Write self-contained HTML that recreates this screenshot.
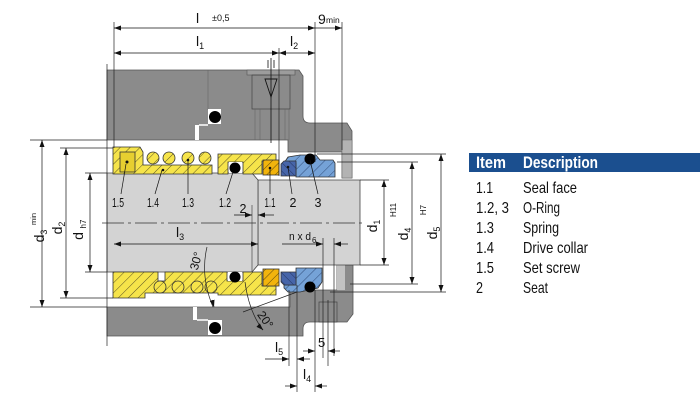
<!DOCTYPE html>
<html><head><meta charset="utf-8"><style>html,body{margin:0;padding:0;background:#fff;}svg{display:block}</style></head><body>
<svg xmlns="http://www.w3.org/2000/svg" width="700" height="400" viewBox="0 0 700 400" font-family="'Liberation Sans', sans-serif">
<defs>
<pattern id="hy" width="7" height="7" patternUnits="userSpaceOnUse" patternTransform="rotate(45)"><rect width="7" height="7" fill="#f6e44a"/><line x1="0" y1="0" x2="0" y2="7" stroke="#4a4520" stroke-width="0.9"/></pattern>
<pattern id="hg" width="6" height="6" patternUnits="userSpaceOnUse" patternTransform="rotate(45)"><rect width="6" height="6" fill="#f2b40c"/><line x1="0" y1="0" x2="0" y2="6" stroke="#4a3a10" stroke-width="0.9"/></pattern>
<pattern id="hd" width="6" height="6" patternUnits="userSpaceOnUse" patternTransform="rotate(-45)"><rect width="6" height="6" fill="#4765a9"/><line x1="0" y1="0" x2="0" y2="6" stroke="#1f2f5a" stroke-width="0.9"/></pattern>
<pattern id="hl" width="7" height="7" patternUnits="userSpaceOnUse" patternTransform="rotate(45)"><rect width="7" height="7" fill="#75a2d7"/><line x1="0" y1="0" x2="0" y2="7" stroke="#2a4470" stroke-width="0.9"/></pattern>
<marker id="a" viewBox="0 0 7 5" refX="7" refY="2.5" markerWidth="7" markerHeight="5" markerUnits="userSpaceOnUse" orient="auto-start-reverse"><path d="M0,0L7,2.5L0,5z" fill="#111"/></marker>
</defs>
<rect width="700" height="400" fill="#fff"/>

<!-- upper housing -->
<path d="M107,70 L299,70 L303,76 L303,116 Q303,123 310,123 L347,123 L352,131 L352,178 L342,178 L342,152 L288,152 L288,140 L107,140 Z" fill="#8b8b8b" stroke="#555" stroke-width="0.8"/>
<rect x="342" y="140" width="10" height="38" fill="#b3b3b3" stroke="#666" stroke-width="0.5"/>
<rect x="247" y="70" width="48" height="5" fill="#9c9c9c" stroke="#555" stroke-width="0.6"/>
<rect x="252" y="75" width="38" height="34" fill="none" stroke="#444" stroke-width="0.7"/>
<g stroke="#666" stroke-width="0.6">
<line x1="255" y1="109" x2="255" y2="140"/><line x1="260" y1="109" x2="260" y2="140"/>
<line x1="285" y1="109" x2="285" y2="140"/><line x1="289" y1="109" x2="289" y2="140"/>
<line x1="208" y1="70" x2="208" y2="110"/>
</g>
<rect x="208" y="109" width="13" height="15" fill="#fff"/>
<circle cx="215" cy="117" r="6" fill="#000"/>
<rect x="195" y="125" width="4" height="15" fill="#fff"/>
<line x1="199" y1="125" x2="208" y2="125" stroke="#fff" stroke-width="1.5"/>
<line x1="271" y1="58" x2="271" y2="143" stroke="#111" stroke-width="0.8"/>
<line x1="268" y1="60" x2="268" y2="68" stroke="#111" stroke-width="0.8"/>
<line x1="274" y1="60" x2="274" y2="68" stroke="#111" stroke-width="0.8"/>
<path d="M265,79 L277,79 L271,97 Z" fill="none" stroke="#111" stroke-width="0.9"/>

<!-- lower housing -->
<path d="M107,307 L290,307 L290,290 L337,290 L337,265 L353,265 L353,314 L347,322 L310,322 Q303,322 303,329 L303,336 L107,336 Z" fill="#8b8b8b" stroke="#555" stroke-width="0.8"/>
<rect x="337" y="265" width="8" height="25" fill="#c2c2c2"/>
<rect x="319" y="302" width="18" height="20" fill="#8b8b8b" stroke="#444" stroke-width="0.7"/>
<rect x="208" y="320" width="14" height="15" fill="#fff"/>
<circle cx="215" cy="328" r="6" fill="#000"/>
<rect x="193" y="307" width="4" height="13" fill="#fff"/>
<line x1="197" y1="320" x2="208" y2="320" stroke="#fff" stroke-width="1.5"/>

<!-- shaft -->
<path d="M258,180 L360,180 L360,265 L258,265 Z" fill="#d3d3d3" stroke="#444" stroke-width="0.8"/>
<path d="M107,173 L252,173 L258,180 L258,265 L252,272 L107,272 Z" fill="#d3d3d3" stroke="#444" stroke-width="0.8"/>
<line x1="252" y1="205" x2="252" y2="272" stroke="#333" stroke-width="0.6"/>

<!-- upper seal parts -->
<g stroke="#333" stroke-width="0.8">
<path d="M113,147 L140,147 L143,152 L143,165 L212,165 L212,174 L113,174 Z" fill="url(#hy)"/>
<rect x="120" y="152" width="15" height="20" fill="#e6cf30"/>
<circle cx="153" cy="158" r="6" fill="url(#hy)"/>
<circle cx="169" cy="158" r="6" fill="url(#hy)"/>
<circle cx="188" cy="158" r="6" fill="url(#hy)"/>
<circle cx="205" cy="158" r="6" fill="url(#hy)"/>
<path d="M218,154 L276,154 L276,161 L262,161 L262,174 L243,174 L243,162 L228,162 L228,174 L218,174 Z" fill="url(#hy)"/>
<rect x="263" y="160" width="16" height="15" fill="url(#hg)"/>
<path d="M284,163 L288,157 L300,155 L316,155 L320,160 L333,160 L335,163 L335,177 L296,177 L296,163 Z" fill="url(#hl)"/>
<path d="M281,164 L284,161 L296,161 L296,176 L281,176 Z" fill="url(#hd)"/>
</g>
<rect x="229" y="162" width="13" height="11" fill="#fff"/>
<circle cx="235" cy="168" r="5.5" fill="#000"/>
<circle cx="310" cy="159" r="5.5" fill="#000"/>
<circle cx="127" cy="162" r="1.5" fill="#111"/>

<!-- lower seal parts -->
<g stroke="#333" stroke-width="0.8">
<path d="M113,272 L158,272 L158,281 L165,281 L165,272 L227,272 L227,281 L243,281 L243,272 L262,272 L262,286 L276,286 L276,295 L218,295 L218,293 L145,293 L145,298 L113,298 Z" fill="url(#hy)"/>
<circle cx="160" cy="287" r="6" fill="url(#hy)"/>
<circle cx="178" cy="287" r="6" fill="url(#hy)"/>
<circle cx="197" cy="287" r="6" fill="url(#hy)"/>
<circle cx="211" cy="287" r="6" fill="url(#hy)"/>
<rect x="263" y="269" width="16" height="17" fill="url(#hg)"/>
<path d="M296,268 L322,268 L322,282 L318,288 L300,292 L288,292 L284,288 L284,285 L296,285 Z" fill="url(#hl)"/>
<path d="M281,272 L296,272 L296,285 L284,285 L281,282 Z" fill="url(#hd)"/>
</g>
<rect x="228" y="272" width="14" height="9" fill="#fff"/>
<circle cx="235" cy="277" r="5.5" fill="#000"/>
<circle cx="310" cy="287" r="5.5" fill="#000"/>

<!-- centerline -->
<line x1="102" y1="223" x2="362" y2="223" stroke="#333" stroke-width="0.8" stroke-dasharray="22 4 3 4"/>

<!-- extension lines -->
<g stroke="#222" stroke-width="0.7" fill="none">
<line x1="107" y1="64" x2="107" y2="346"/>
<line x1="114" y1="22" x2="114" y2="148"/>
<line x1="279" y1="48" x2="279" y2="176"/>
<line x1="315" y1="22" x2="315" y2="162"/>
<line x1="342" y1="22" x2="342" y2="150"/>
<line x1="30" y1="140" x2="107" y2="140"/>
<line x1="60" y1="148" x2="113" y2="148"/>
<line x1="85" y1="173" x2="107" y2="173"/>
<line x1="85" y1="272" x2="107" y2="272"/>
<line x1="60" y1="298" x2="113" y2="298"/>
<line x1="30" y1="307" x2="107" y2="307"/>
<line x1="317" y1="154" x2="446" y2="154"/>
<line x1="337" y1="162" x2="418" y2="162"/>
<line x1="360" y1="180" x2="389" y2="180"/>
<line x1="360" y1="265" x2="389" y2="265"/>
<line x1="350" y1="284" x2="418" y2="284"/>
<line x1="330" y1="292" x2="446" y2="292"/>
<line x1="289" y1="290" x2="289" y2="366"/>
<line x1="297" y1="285" x2="297" y2="392"/>
<line x1="315" y1="290" x2="315" y2="392"/>
<line x1="323" y1="238" x2="323" y2="358"/>
<line x1="334" y1="238" x2="334" y2="356"/>
<line x1="328" y1="300" x2="328" y2="366"/>
<line x1="243" y1="312" x2="297" y2="292"/>
<path d="M207,247 Q200,276 213,307"/>
<path d="M245,282 Q249,312 263,330"/>
</g>

<!-- dimension lines -->
<g stroke="#111" stroke-width="0.7">
<line x1="114" y1="28" x2="315" y2="28" marker-start="url(#a)" marker-end="url(#a)"/>
<line x1="315" y1="28" x2="342" y2="28" marker-end="url(#a)"/>
<line x1="114" y1="53" x2="279" y2="53" marker-start="url(#a)" marker-end="url(#a)"/>
<line x1="279" y1="53" x2="315" y2="53" marker-start="url(#a)" marker-end="url(#a)"/>
<line x1="42" y1="140" x2="42" y2="307" marker-start="url(#a)" marker-end="url(#a)"/>
<line x1="66" y1="148" x2="66" y2="298" marker-start="url(#a)" marker-end="url(#a)"/>
<line x1="90" y1="173" x2="90" y2="272" marker-start="url(#a)" marker-end="url(#a)"/>
<line x1="384" y1="180" x2="384" y2="265" marker-start="url(#a)" marker-end="url(#a)"/>
<line x1="412" y1="162" x2="412" y2="284" marker-start="url(#a)" marker-end="url(#a)"/>
<line x1="441" y1="154" x2="441" y2="292" marker-start="url(#a)" marker-end="url(#a)"/>
<line x1="114" y1="244" x2="258" y2="244" marker-start="url(#a)" marker-end="url(#a)"/>
<line x1="234" y1="215" x2="252" y2="215" marker-end="url(#a)"/>
<line x1="274" y1="215" x2="258" y2="215" marker-end="url(#a)"/>
<line x1="282" y1="244" x2="323" y2="244" marker-end="url(#a)"/>
<line x1="348" y1="244" x2="334" y2="244" marker-end="url(#a)"/>
<line x1="265" y1="359" x2="289" y2="359" marker-end="url(#a)"/>
<line x1="310" y1="359" x2="297" y2="359" marker-end="url(#a)"/>
<line x1="285" y1="386" x2="297" y2="386" marker-end="url(#a)"/>
<line x1="327" y1="386" x2="315" y2="386" marker-end="url(#a)"/>
<line x1="303" y1="351" x2="315" y2="351" marker-end="url(#a)"/>
<line x1="340" y1="351" x2="328" y2="351" marker-end="url(#a)"/>
<line x1="212" y1="300" x2="214" y2="307" marker-end="url(#a)"/>
<line x1="258" y1="325" x2="263" y2="330" marker-end="url(#a)"/>
</g>

<!-- leader lines -->
<g stroke="#111" stroke-width="0.7">
<line x1="121" y1="194" x2="126" y2="164"/>
<line x1="155" y1="194" x2="162" y2="170"/>
<line x1="188" y1="194" x2="188" y2="160"/>
<line x1="226" y1="194" x2="233" y2="172"/>
<line x1="270" y1="194" x2="270" y2="168"/>
<line x1="292" y1="194" x2="288" y2="167"/>
<line x1="318" y1="194" x2="310" y2="160"/>
</g>
<g fill="#111"><circle cx="163" cy="170" r="1.3"/><circle cx="188" cy="160" r="1.3"/><circle cx="270" cy="168" r="1.3"/><circle cx="288" cy="167" r="1.3"/></g>

<!-- drawing labels -->
<g font-size="12.5" fill="#111" text-anchor="middle">
<text x="118" y="207" textLength="12" lengthAdjust="spacingAndGlyphs">1.5</text>
<text x="153" y="207" textLength="12" lengthAdjust="spacingAndGlyphs">1.4</text>
<text x="188" y="207" textLength="12" lengthAdjust="spacingAndGlyphs">1.3</text>
<text x="225" y="207" textLength="12" lengthAdjust="spacingAndGlyphs">1.2</text>
<text x="270" y="207" textLength="11" lengthAdjust="spacingAndGlyphs">1.1</text>
<text x="293" y="207">2</text>
<text x="318" y="207">3</text>
<text x="243" y="213">2</text>
</g>
<g fill="#111">
<text x="196" y="23" font-size="14">l</text>
<text x="212" y="21" font-size="9">±0,5</text>
<text x="318" y="24" font-size="14">9</text>
<text x="326" y="23" font-size="8.5">min</text>
<text x="196" y="46" font-size="14">l<tspan font-size="9" dy="3">1</tspan></text>
<text x="290" y="46" font-size="14">l<tspan font-size="9" dy="3">2</tspan></text>
<text x="176" y="237" font-size="14">l<tspan font-size="9" dy="3">3</tspan></text>
<text x="275" y="352" font-size="14">l<tspan font-size="9" dy="3">5</tspan></text>
<text x="303" y="379" font-size="14">l<tspan font-size="9" dy="3">4</tspan></text>
<text x="318" y="347" font-size="13">5</text>
<text x="289" y="240" font-size="11" textLength="22" lengthAdjust="spacingAndGlyphs">n x d</text>
<text x="312" y="243" font-size="8">6</text>
<text transform="translate(200,262) rotate(-75)" font-size="12" text-anchor="middle">30°</text>
<text transform="translate(262,322) rotate(55)" font-size="12" text-anchor="middle">20°</text>
<text transform="translate(44,236) rotate(-90)" font-size="14" text-anchor="middle">d<tspan font-size="9" dy="3">3</tspan></text>
<text transform="translate(36,219) rotate(-90)" font-size="7.5" text-anchor="middle">min</text>
<text transform="translate(62,228) rotate(-90)" font-size="14" text-anchor="middle">d<tspan font-size="9" dy="3">2</tspan></text>
<text transform="translate(83,236) rotate(-90)" font-size="14" text-anchor="middle">d</text>
<text transform="translate(86,224) rotate(-90)" font-size="8" text-anchor="middle">h7</text>
<text transform="translate(377,226) rotate(-90)" font-size="14" text-anchor="middle">d<tspan font-size="9" dy="3">1</tspan></text>
<text transform="translate(396,210) rotate(-90)" font-size="8" text-anchor="middle">H11</text>
<text transform="translate(408,234) rotate(-90)" font-size="14" text-anchor="middle">d<tspan font-size="9" dy="3">4</tspan></text>
<text transform="translate(426,210) rotate(-90)" font-size="8" text-anchor="middle">H7</text>
<text transform="translate(437,233) rotate(-90)" font-size="14" text-anchor="middle">d<tspan font-size="9" dy="3">5</tspan></text>
</g>

<!-- table -->
<rect x="469" y="153" width="231" height="19" fill="#1b4f8f"/>
<g font-weight="bold" font-size="17" fill="#fff">
<text x="476" y="168" textLength="30" lengthAdjust="spacingAndGlyphs">Item</text>
<text x="523" y="168" textLength="75" lengthAdjust="spacingAndGlyphs">Description</text>
</g>
<g font-size="16" fill="#111">
<text x="476" y="193" textLength="17" lengthAdjust="spacingAndGlyphs">1.1</text>
<text x="523" y="193" textLength="54" lengthAdjust="spacingAndGlyphs">Seal face</text>
<text x="476" y="213" textLength="33" lengthAdjust="spacingAndGlyphs">1.2, 3</text>
<text x="523" y="213" textLength="37" lengthAdjust="spacingAndGlyphs">O-Ring</text>
<text x="476" y="233" textLength="18" lengthAdjust="spacingAndGlyphs">1.3</text>
<text x="523" y="233" textLength="36" lengthAdjust="spacingAndGlyphs">Spring</text>
<text x="476" y="253" textLength="18" lengthAdjust="spacingAndGlyphs">1.4</text>
<text x="523" y="253" textLength="65" lengthAdjust="spacingAndGlyphs">Drive collar</text>
<text x="476" y="273" textLength="18" lengthAdjust="spacingAndGlyphs">1.5</text>
<text x="523" y="273" textLength="57" lengthAdjust="spacingAndGlyphs">Set screw</text>
<text x="476" y="293" textLength="7" lengthAdjust="spacingAndGlyphs">2</text>
<text x="523" y="293" textLength="25" lengthAdjust="spacingAndGlyphs">Seat</text>
</g>
</svg>
</body></html>
